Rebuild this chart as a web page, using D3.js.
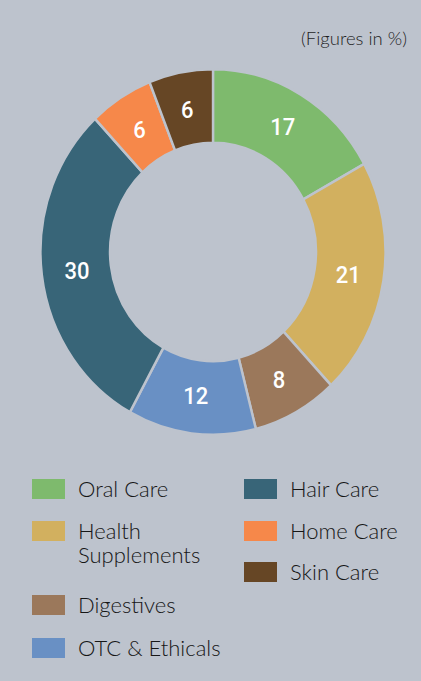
<!DOCTYPE html>
<html>
<head>
<meta charset="utf-8">
<script src="https://cdn.jsdelivr.net/npm/d3@7"></script>
<style>
  html, body { margin: 0; padding: 0; background: #bdc3cd; }
  svg { display: block; }
</style>
</head>
<body>
<script>
const W = 421, H = 681;
const BG = "#bdc3cd";

// data, clockwise from 12 o'clock
const categories = ["Oral Care", "Health Supplements", "Digestives", "OTC & Ethicals", "Hair Care", "Home Care", "Skin Care"];
const shares = [17, 21, 8, 12, 30, 6, 6];
const colors = ["#7eba6d", "#d2b05f", "#9b785b", "#6990c4", "#386578", "#f6884a", "#664625"];

// legend layout: two columns, names split into lines
const legendLeft = [
  {i: 0, lines: ["Oral Care"]},
  {i: 1, lines: ["Health", "Supplements"]},
  {i: 2, lines: ["Digestives"]},
  {i: 3, lines: ["OTC & Ethicals"]}
];
const legendRight = [
  {i: 4, lines: ["Hair Care"]},
  {i: 5, lines: ["Home Care"]},
  {i: 6, lines: ["Skin Care"]}
];

const svg = d3.select("body").append("svg")
  .attr("width", W).attr("height", H);

svg.append("rect").attr("width", W).attr("height", H).attr("fill", BG);

svg.append("text")
  .attr("x", 407).attr("y", 45)
  .attr("text-anchor", "end")
  .style("font-family", "Lato, 'Open Sans', sans-serif")
  .style("font-weight", 300)
  .style("font-size", "18.5px")
  .attr("fill", "#1e1e1e")
  .text("(Figures in %)");

// donut (the picture is slightly stretched vertically)
const cx = 213, cy = 252, rOut = 172.5, rIn = 103, sy = 1.06;
const pie = d3.pie().sort(null).value(d => d)(shares);
const arc = d3.arc().innerRadius(rIn).outerRadius(rOut);
const labelArc = d3.arc().innerRadius(137).outerRadius(137);

const g = svg.append("g").attr("transform", `translate(${cx},${cy})`);

g.append("g").attr("transform", `scale(1,${sy})`)
  .selectAll("path.slice")
  .data(pie)
  .join("path")
  .attr("class", "slice")
  .attr("d", arc)
  .attr("fill", (d, i) => colors[i])
  .attr("stroke", BG)
  .attr("stroke-width", 2.4);

g.selectAll("text.val")
  .data(pie)
  .join("text")
  .attr("class", "val")
  .attr("transform", d => {
    const [x, y] = labelArc.centroid(d);
    return `translate(${x},${y * sy}) scale(1,${sy})`;
  })
  .attr("text-anchor", "middle")
  .attr("dy", "0.36em")
  .style("font-family", "Roboto, sans-serif")
  .style("font-weight", 500)
  .style("font-size", "22px")
  .attr("fill", "#fff")
  .text(d => d.data);

// legend
function drawLegend(items, x, ys) {
  items.forEach((it, k) => {
    const y = ys[k];
    svg.append("rect")
      .attr("x", x).attr("y", y)
      .attr("width", 33).attr("height", 20)
      .attr("fill", colors[it.i]);
    const t = svg.append("text")
      .attr("x", x + 46).attr("y", y + 18)
      .style("font-family", "Lato, 'Open Sans', sans-serif")
      .style("font-weight", 300)
      .style("font-size", "22px")
      .attr("fill", "#161616");
    it.lines.forEach((ln, j) => {
      t.append("tspan").attr("x", x + 46).attr("dy", j ? 24 : 0).text(ln);
    });
  });
}
drawLegend(legendLeft, 32, [479, 521, 595, 638]);
drawLegend(legendRight, 244, [479, 521, 562]);
</script>
</body>
</html>
